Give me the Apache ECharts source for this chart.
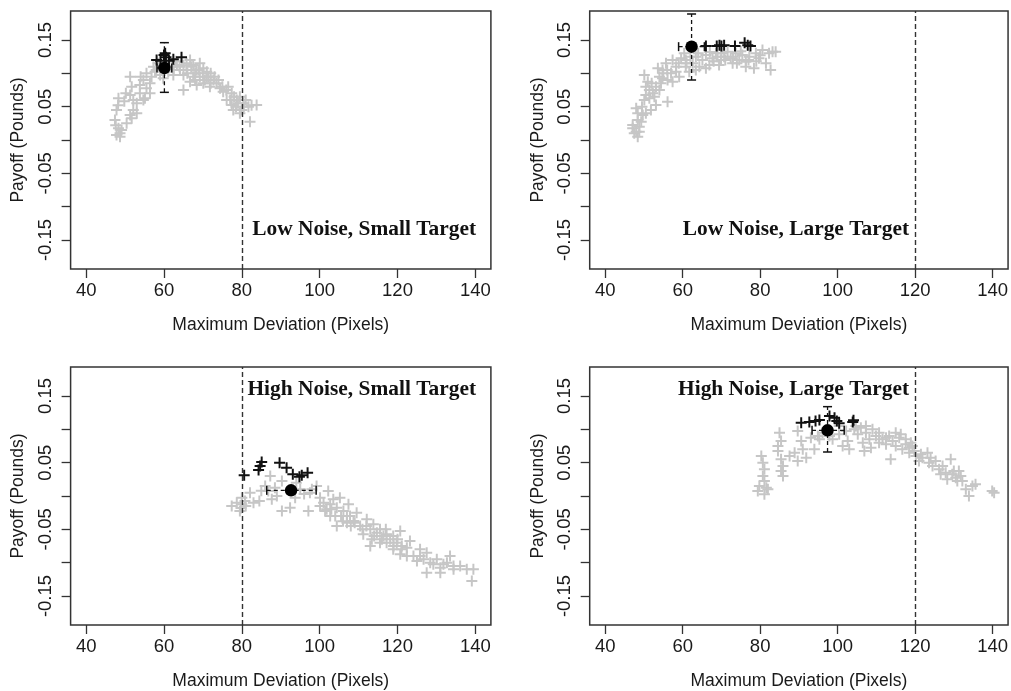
<!DOCTYPE html>
<html>
<head>
<meta charset="utf-8">
<script src="https://cdn.jsdelivr.net/npm/echarts@6/dist/echarts.min.js"></script>
<style>
html,body{margin:0;padding:0;background:#fff;}
#chart{width:1011px;height:691px;}
</style>
</head>
<body>
<div id="chart"></div>
<script>
// ---------- data ----------
const xTicks = [40, 60, 80, 100, 120, 140];
const yTicks = [-0.15, -0.10, -0.05, 0, 0.05, 0.10, 0.15];
const yTickLabels = [-0.15, -0.05, 0.05, 0.15];
const xTitle = 'Maximum Deviation (Pixels)';
const yTitle = 'Payoff (Pounds)';
const panelTitles = ['Low Noise, Small Target', 'Low Noise, Large Target', 'High Noise, Small Target', 'High Noise, Large Target'];
const thresholds = [80, 120, 80, 120];

const gray1 = [[48.3,0.0625],[47.8,0.045],[47.4,0.03],[48.3,0.0175],[48.7,0.01],[47.8,0.0075],[48.7,0.005],[49.1,0.015],[48.2,0.052],[47.6,0.022],
[51.3,0.095],[51.7,0.08],[51.3,0.0675],[52.1,0.06],[51.3,0.0375],[51.7,0.0325],[53,0.055],[53.8,0.0825],[54.7,0.09],[55.5,0.0775],[53.8,0.07],[55.1,0.0625],[56.4,0.085],[56.8,0.095],[57.7,0.1025],[58.5,0.115],[57.3,0.11],[59,0.0975],[61.1,0.1025],[62,0.11],[63.3,0.1125],[64.1,0.105],[65,0.0975],[65.8,0.115],[66.7,0.12],[67.5,0.1125],[68.4,0.105],[69.2,0.115],[70.1,0.1075],[71,0.1025],[71.4,0.095],[72.7,0.09],[73.5,0.085],[74.4,0.0775],[75.2,0.0725],[76.5,0.08],[77.4,0.07],[76.1,0.06],[77.4,0.0525],[78.7,0.06],[79.5,0.065],[80.4,0.055],[81.7,0.05],[83.8,0.0525],[82.1,0.0275],[79.5,0.04],[77.8,0.045],[68.4,0.0825],[66.7,0.0875],[65,0.075],[70.1,0.085],[71.8,0.08],[69.2,0.095],[67.5,0.095],[65.8,0.105],[62.4,0.0975],[59.8,0.0925],[56.4,0.07],[54.7,0.06],[53,0.04],[52.1,0.045],[50.4,0.025],
[67,0.11],[68,0.1],[69,0.105],[70,0.1],[71,0.095],[72,0.1],[73,0.095],[74,0.09],[70.5,0.09],[72,0.085],[68,0.09],[66,0.1],[64,0.11],[62.5,0.105],[61,0.11],[76,0.075],[78,0.065],[79,0.055],[80,0.045],[77,0.06],[75,0.08],[81,0.06],[60,0.115],[63,0.118],[65,0.112],[58,0.105],[55.5,0.1],[54,0.095],[50.2,0.07],[49.8,0.058],[80.5,0.05],[82.5,0.052],[78.5,0.05]];

const gray2 = [[47.1,0.0175],[47.5,0.01],[48.4,0.005],[48,0.0125],[48.8,0.0125],[47.1,0.0225],[48.4,0.03],[48.4,0.04],[48,0.0475],[49.7,0.0375],[50.1,0.06],[50.5,0.0675],[51.4,0.075],[50.5,0.08],[51,0.0875],[50.1,0.0975],[51.4,0.0625],[51.8,0.045],[52.7,0.065],[53.1,0.0525],[54,0.075],[54.4,0.085],[54,0.095],[53.6,0.1075],[54.8,0.105],[55.7,0.115],[56.1,0.09],[56.1,0.0575],[57,0.1],[57.4,0.12],[58.3,0.11],[59.1,0.095],[59.6,0.1225],[60.4,0.13],[60.8,0.11],[61.7,0.1025],[62.6,0.115],[63.4,0.125],[64.3,0.11],[65.1,0.12],[66,0.1275],[66.9,0.1125],[67.7,0.1225],[68.6,0.13],[69.9,0.12],[70.7,0.125],[71.6,0.1325],[72.4,0.1225],[73.7,0.13],[74.6,0.12],[75.4,0.1275],[76.3,0.1175],[77.2,0.125],[78.4,0.1075],[78.9,0.13],[79.7,0.1225],[80.6,0.135],[81.5,0.115],[82.3,0.13],[83.2,0.1325],[84,0.1325],[82.7,0.105],[76.3,0.11],[72.9,0.115],[69.4,0.1125],[66,0.1075],[63.4,0.105],[60.8,0.12],[58.3,0.1025],[57.4,0.0875],[54.8,0.0925],[53.1,0.08],[52.3,0.07],[50.5,0.04],[49.3,0.0275],
[64,0.13],[67,0.132],[69,0.125],[71,0.12],[73,0.125],[75,0.133],[77,0.12],[79,0.118],[80,0.127],[74,0.115],[70,0.13],[68,0.118],[62,0.125],[61,0.115],[59,0.115],[56,0.105],[55,0.1],[52,0.085],[49.5,0.05],[48.8,0.02]];

const gray3 = [[77.4,-0.015],[78.7,-0.01],[80,-0.0125],[79.5,-0.0225],[80,-0.0025],[80.8,-0.0075],[82.1,0.005],[83,-0.01],[84.5,-0.0075],[86,0.015],[87.3,0.03],[87.7,-0.005],[86.8,0.0075],[88.5,0.0125],[90.3,0.0225],[90.3,-0.0225],[92.4,-0.0175],[93.7,-0.0025],[95,0.01],[97.1,-0.0225],[97.5,0.005],[99.2,0.015],[100.1,-0.0025],[101,-0.01],[101.8,-0.02],[102.7,-0.03],[102.2,0.0075],[103.5,-0.005],[104.4,-0.0175],[105.2,-0.0025],[106.1,-0.0225],[107.4,-0.0125],[107.8,-0.03],[108.7,-0.0375],[107,-0.04],[104.4,-0.045],[109.5,-0.025],[110.4,-0.045],[112.1,-0.035],[113,-0.05],[113.8,-0.0425],[114.7,-0.055],[115.5,-0.05],[116.4,-0.06],[117.2,-0.0575],[118.1,-0.065],[118.9,-0.06],[119.8,-0.07],[120.7,-0.0525],[121.1,-0.075],[113,-0.075],[115.5,-0.07],[118.9,-0.08],[120.7,-0.0875],[122.4,-0.0775],[123.2,-0.0675],[124.1,-0.09],[125.8,-0.08],[126.7,-0.095],[127.5,-0.085],[128.4,-0.1],[127.5,-0.115],[130.1,-0.095],[131,-0.1075],[132.7,-0.1],[133.5,-0.09],[134.4,-0.105],[136.1,-0.105],[137.8,-0.11],[139.5,-0.11],[139.1,-0.1275],[131,-0.115],[125,-0.0975],[117.2,-0.07],[111.2,-0.0575],[107,-0.03],[100.1,-0.015],[101.4,-0.0225],[102.7,-0.0125],[113.4,-0.065],[122.4,-0.09],[125.8,-0.09],[129.2,-0.1025],[131.8,-0.1025],[134.4,-0.11],
[109,-0.04],[111,-0.05],[112,-0.045],[114,-0.06],[116,-0.065],[117,-0.05],[119,-0.075],[120,-0.065],[121,-0.08],[105.5,-0.03],[106,-0.038],[108,-0.045],[104,-0.03],[103,-0.02],[96,0.003],[94,0.02],[98,0.01],[89,0.0],[85,0.008],[81,-0.015],[79.8,-0.018]];

const gray4 = [[80.3,0.06],[80.7,0.05],[81.1,0.04],[80.7,0.03],[81.1,0.0225],[79.8,0.015],[81.6,0.0125],[82,0.01],[79.4,0.0075],[81.1,0.0025],[85.4,0.055],[85.9,0.045],[85.4,0.0375],[85.9,0.03],[85,0.095],[85.4,0.0825],[84.6,0.075],[84.6,0.0675],[87.6,0.06],[88.9,0.065],[89.7,0.0525],[91,0.07],[91.9,0.0575],[90.6,0.0825],[89.7,0.0975],[93.1,0.0875],[94,0.07],[95.3,0.085],[96.1,0.095],[98.7,0.085],[100.4,0.0925],[101.3,0.075],[102.6,0.0825],[103,0.07],[104.3,0.1],[105.2,0.0925],[106,0.1025],[106.5,0.08],[106.9,0.0675],[107.3,0.095],[108.2,0.085],[109,0.1],[109.9,0.09],[110.7,0.095],[111.6,0.085],[112.5,0.0775],[113.3,0.09],[113.7,0.055],[114.2,0.0825],[115,0.075],[115.9,0.0875],[116.3,0.0925],[116.7,0.07],[117.6,0.0775],[118.5,0.065],[119.3,0.075],[120.2,0.06],[121,0.0525],[121.9,0.0575],[123.2,0.065],[123.6,0.05],[124.5,0.045],[125.3,0.0525],[126.2,0.04],[127.1,0.045],[127.9,0.035],[129.2,0.055],[129.6,0.0325],[130.5,0.0275],[131.3,0.0375],[132.2,0.0225],[133.1,0.01],[133.9,0.0],[135.6,0.0175],[139.9,0.0075],[140.4,0.005],[115,0.095],[112.5,0.0875],[110.7,0.08],[108.6,0.0725],[107.3,0.105],[104.7,0.105],[102.2,0.0975],[100.4,0.105],[97.9,0.09],[94.9,0.09],[117.6,0.085],[118.5,0.0725],[118.9,0.08],[119.8,0.0675],[121.5,0.0625],[124,0.0575],[126.6,0.0325],[128.3,0.025],[130,0.0375],[130.9,0.0225],[131.8,0.03],[134.8,0.015]];

const black1 = [[58.1,0.12],[60.0,0.1275],[60.5,0.124],[62.4,0.121],[64.5,0.124],[59.1,0.119],[61.3,0.119],[60.3,0.130]];
const black2 = [[66.0,0.141],[68.8,0.141],[69.5,0.142],[70.0,0.141],[70.7,0.142],[73.5,0.141],[76.0,0.146],[76.8,0.142],[77.5,0.141]];
const black3 = [[80.6,0.031],[85.1,0.051],[84.7,0.045],[84.3,0.039],[89.7,0.05],[91.5,0.0425],[93.1,0.0325],[94.8,0.029],[95.4,0.031],[96.9,0.035]];
const black4 = [[90.6,0.11],[92.7,0.111],[94.3,0.1125],[95.3,0.114],[97.9,0.12],[99.2,0.1175],[99.8,0.1125],[100.4,0.109],[103.9,0.111],[104.1,0.1135]];

// mean point: [x, y, xLow, xHigh, yLow, yHigh]
const mean1 = [60.1, 0.108, 58.2, 62.0, 0.0715, 0.146];
const mean2 = [62.3, 0.140, 58.95, 65.6, 0.090, 0.189];
const mean3 = [92.65, 0.0085, 86.4, 99.1, 0.0085, 0.0085];
const mean4 = [97.4, 0.0985, 93.4, 101.7, 0.066, 0.134];

const grayData = [gray1, gray2, gray3, gray4];
const blackData = [black1, black2, black3, black4];
const meanData = [mean1, mean2, mean3, mean4];

// ---------- layout ----------
const grids = [
  {left: 70.6, top: 11, width: 420.3, height: 258},
  {left: 589.7, top: 11, width: 420.3, height: 258},
  {left: 70.6, top: 367, width: 420.3, height: 258},
  {left: 589.7, top: 367, width: 420.3, height: 258}
];
const titlePos = [[476, 229], [909, 229], [476, 389], [909, 389]];

const plusPath = 'path://M0,4.1H10V5.9H0Z M4.1,0H5.9V10H4.1Z';
const axisColor = '#333';
const textColor = '#1a1a1a';
const sans = '"Liberation Sans", Arial, sans-serif';

function renderErr(params, api) {
  const x = api.value(0), y = api.value(1);
  const x0 = api.value(2), x1 = api.value(3), y0 = api.value(4), y1 = api.value(5);
  const children = [];
  const dash = {stroke: '#111', lineWidth: 1.3, lineDash: [4, 3]};
  const solid = {stroke: '#111', lineWidth: 1.5};
  const cap = 4.5;
  if (x1 > x0) {
    const a = api.coord([x0, y]), b = api.coord([x1, y]);
    children.push({type: 'line', shape: {x1: a[0], y1: a[1], x2: b[0], y2: b[1]}, style: dash});
    children.push({type: 'line', shape: {x1: a[0], y1: a[1] - cap, x2: a[0], y2: a[1] + cap}, style: solid});
    children.push({type: 'line', shape: {x1: b[0], y1: b[1] - cap, x2: b[0], y2: b[1] + cap}, style: solid});
  }
  if (y1 > y0) {
    const a = api.coord([x, y0]), b = api.coord([x, y1]);
    children.push({type: 'line', shape: {x1: a[0], y1: a[1], x2: b[0], y2: b[1]}, style: dash});
    children.push({type: 'line', shape: {x1: a[0] - cap, y1: a[1], x2: a[0] + cap, y2: a[1]}, style: solid});
    children.push({type: 'line', shape: {x1: b[0] - cap, y1: b[1], x2: b[0] + cap, y2: b[1]}, style: solid});
  }
  return {type: 'group', children};
}

const xAxes = [], yAxes = [], series = [], graphics = [];
grids.forEach((g, i) => {
  xAxes.push({
    type: 'value', gridIndex: i, min: 36, max: 144, position: 'bottom',
    axisLine: {show: false, onZero: false},
    splitLine: {show: false},
    axisTick: {show: true, length: 9, customValues: xTicks, lineStyle: {color: axisColor, width: 1.3}},
    axisLabel: {customValues: xTicks, fontSize: 18.5, color: textColor, fontFamily: sans, margin: 12},
    name: xTitle, nameLocation: 'middle', nameGap: 47,
    nameTextStyle: {fontSize: 17.5, color: textColor, fontFamily: sans}
  });
  yAxes.push({
    type: 'value', gridIndex: i, min: -0.1935, max: 0.1935, position: 'left',
    axisLine: {show: false, onZero: false},
    splitLine: {show: false},
    axisTick: {show: true, length: 9, customValues: yTicks, lineStyle: {color: axisColor, width: 1.3}},
    axisLabel: {customValues: yTickLabels, rotate: 90, fontSize: 18.5, color: textColor, fontFamily: sans, margin: 15,
      formatter: v => Number(v).toFixed(2)},
    name: yTitle, nameLocation: 'middle', nameGap: 43,
    nameTextStyle: {fontSize: 17.5, color: textColor, fontFamily: sans}
  });
  series.push({
    type: 'scatter', xAxisIndex: i, yAxisIndex: i, data: grayData[i],
    symbol: plusPath, symbolSize: 11, itemStyle: {color: '#c6c6c6', opacity: 1},
    silent: true, z: 2,
    markLine: {silent: true, symbol: ['none', 'none'], label: {show: false},
      lineStyle: {color: axisColor, width: 1.4, type: [5, 3]},
      data: [{xAxis: thresholds[i]}]}
  });
  series.push({
    type: 'scatter', xAxisIndex: i, yAxisIndex: i, data: blackData[i],
    symbol: plusPath, symbolSize: 11, itemStyle: {color: '#111', opacity: 1},
    silent: true, z: 3
  });
  series.push({
    type: 'custom', xAxisIndex: i, yAxisIndex: i, data: [meanData[i]],
    renderItem: renderErr, encode: {x: 0, y: 1}, silent: true, z: 4, clip: false
  });
  series.push({
    type: 'scatter', xAxisIndex: i, yAxisIndex: i, data: [[meanData[i][0], meanData[i][1]]],
    symbol: 'circle', symbolSize: 12.5, itemStyle: {color: '#000', opacity: 1},
    silent: true, z: 5
  });
  graphics.push({
    type: 'text', x: titlePos[i][0], y: titlePos[i][1], z: 10,
    style: {text: panelTitles[i], align: 'right', verticalAlign: 'middle',
      font: 'bold 21.4px "Liberation Serif", "Times New Roman", serif', fill: '#111'}
  });
});

const chart = echarts.init(document.getElementById('chart'), null, {renderer: 'canvas'});
chart.setOption({
  animation: false,
  backgroundColor: '#fff',
  grid: grids.map(g => Object.assign({show: true, borderColor: axisColor, borderWidth: 1.5, backgroundColor: 'transparent', containLabel: false}, g)),
  xAxis: xAxes,
  yAxis: yAxes,
  series: series,
  graphic: graphics
});
</script>
</body>
</html>
